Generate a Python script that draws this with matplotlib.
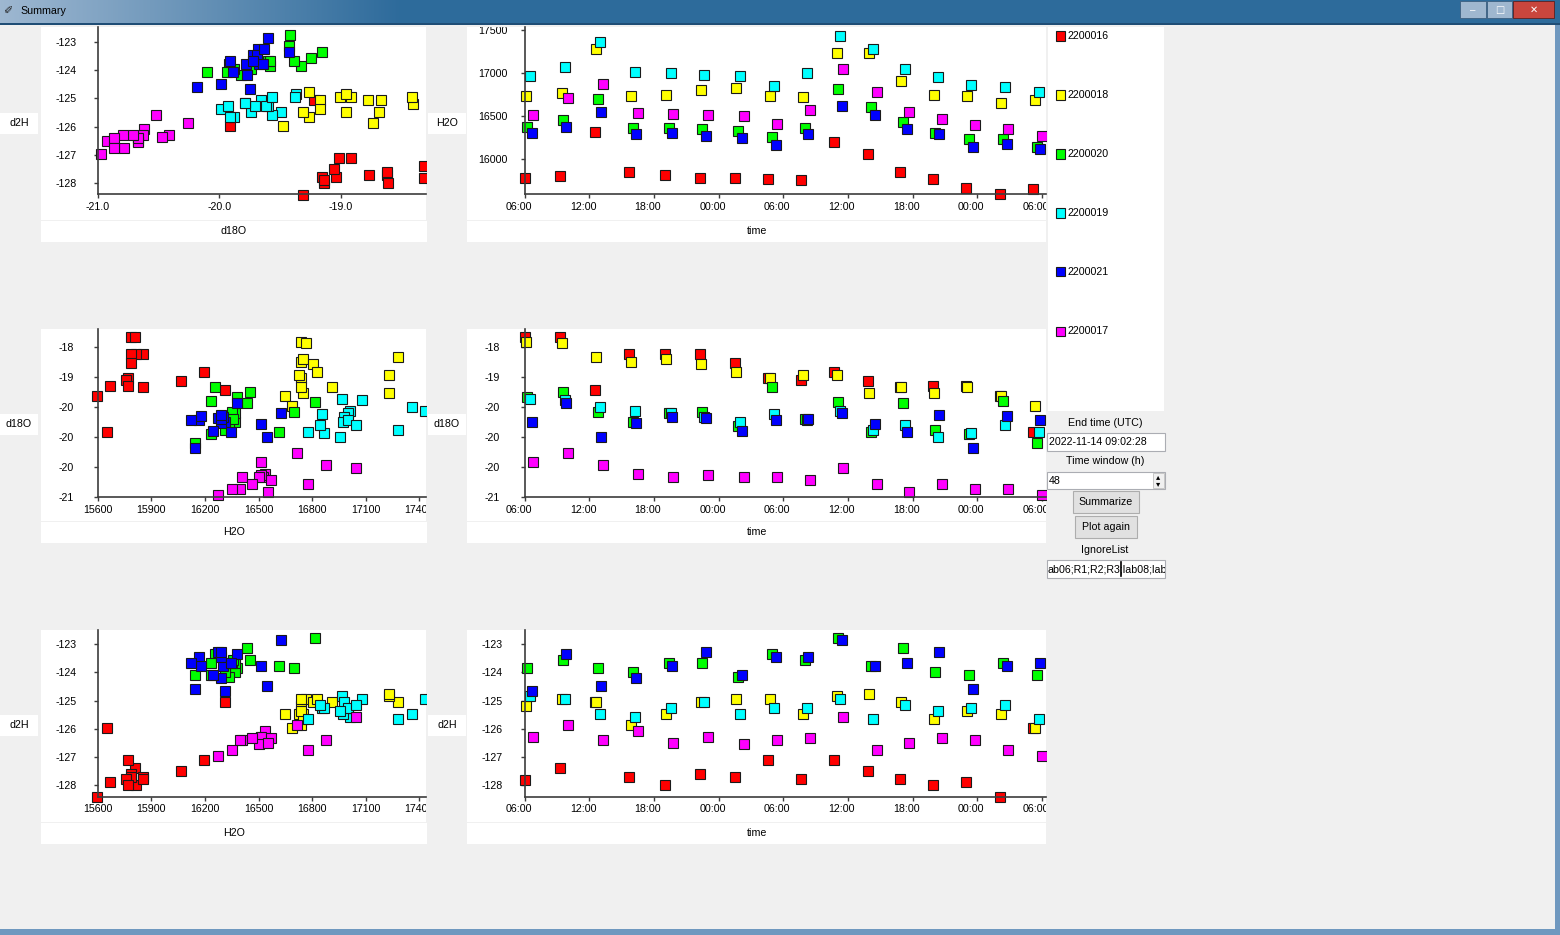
import numpy as np
import matplotlib
matplotlib.use('Agg')
import matplotlib.pyplot as plt
from matplotlib.patches import Rectangle
from matplotlib.transforms import ScaledTranslation

plt.rcParams['font.family'] = ['Liberation Sans', 'DejaVu Sans']

# time in hours after 2022-11-12 06:00 UTC, one list per analyser
t_16 = [0.04, 3.29, 6.54, 9.72, 13.03, 16.28, 19.52, 22.61, 25.65, 28.74, 31.83, 34.83, 37.92, 40.95, 44.11, 47.20]
h2o_16 = [15786, 15809, 16313, 15856, 15817, 15786, 15786, 15767, 15759, 16197, 16065, 15856, 15767, 15670, 15596, 15654]
d18o_16 = [-18.32, -18.32, -19.22, -18.62, -18.61, -18.62, -18.77, -19.02, -19.04, -18.92, -19.06, -19.16, -19.14, -19.14, -19.31, -19.91]
d2h_16 = [-127.80, -127.39, -125.06, -127.70, -128.00, -127.59, -127.70, -127.09, -127.79, -127.09, -127.49, -127.79, -128.00, -127.88, -128.41, -125.99]

t_18 = [0.11, 3.44, 6.63, 9.84, 13.12, 16.34, 19.62, 22.77, 25.86, 28.95, 31.98, 34.92, 37.98, 41.07, 44.20, 47.35]
h2o_18 = [16736, 16767, 17283, 16736, 16748, 16806, 16825, 16736, 16724, 17232, 17232, 16910, 16748, 16736, 16651, 16690]
d18o_18 = [-18.41, -18.42, -18.67, -18.74, -18.69, -18.78, -18.92, -19.01, -18.96, -18.96, -19.26, -19.17, -19.26, -19.17, -19.31, -19.48]
d2h_18 = [-125.19, -124.96, -125.07, -125.87, -125.49, -125.07, -124.96, -124.96, -125.48, -124.84, -124.77, -125.07, -125.67, -125.38, -125.48, -125.99]

t_20 = [0.26, 3.54, 6.78, 10.03, 13.40, 16.49, 19.77, 22.99, 26.02, 29.05, 32.14, 35.14, 38.08, 41.26, 44.35, 47.51]
h2o_20 = [16379, 16453, 16697, 16368, 16368, 16352, 16333, 16255, 16360, 16814, 16612, 16434, 16310, 16232, 16232, 16147]
d18o_20 = [-19.33, -19.25, -19.58, -19.74, -19.60, -19.58, -19.82, -19.16, -19.69, -19.42, -19.92, -19.43, -19.88, -19.94, -19.39, -20.10]
d2h_20 = [-123.86, -123.57, -123.86, -123.98, -123.69, -123.69, -124.18, -123.37, -123.57, -122.78, -123.78, -123.15, -123.98, -124.08, -123.69, -124.08]

t_19 = [0.51, 3.75, 6.97, 10.22, 13.59, 16.65, 19.99, 23.17, 26.20, 29.26, 32.29, 35.29, 38.35, 41.42, 44.57, 47.75]
h2o_19 = [16969, 17077, 17360, 17011, 17000, 16980, 16972, 16856, 17000, 17434, 17279, 17046, 16957, 16864, 16844, 16779]
d18o_19 = [-19.37, -19.38, -19.49, -19.57, -19.60, -19.66, -19.74, -19.62, -19.71, -19.57, -19.88, -19.79, -19.99, -19.93, -19.79, -19.91]
d2h_19 = [-124.84, -124.96, -125.48, -125.58, -125.28, -125.07, -125.48, -125.28, -125.28, -124.96, -125.67, -125.16, -125.38, -125.28, -125.16, -125.67]

t_21 = [0.66, 3.85, 7.12, 10.37, 13.65, 16.86, 20.14, 23.30, 26.26, 29.42, 32.51, 35.45, 38.48, 41.63, 44.72, 47.82]
h2o_21 = [16310, 16379, 16546, 16290, 16302, 16275, 16244, 16166, 16290, 16624, 16515, 16348, 16290, 16143, 16178, 16120]
d18o_21 = [-19.75, -19.43, -19.99, -19.77, -19.67, -19.68, -19.89, -19.72, -19.69, -19.60, -19.78, -19.91, -19.63, -20.18, -19.64, -19.72]
d2h_21 = [-124.67, -123.37, -124.49, -124.19, -123.77, -123.27, -124.08, -123.47, -123.47, -122.86, -123.77, -123.69, -123.27, -124.60, -123.77, -123.69]

t_17 = [0.82, 4.06, 7.31, 10.56, 13.80, 17.05, 20.33, 23.45, 26.48, 29.57, 32.73, 35.66, 38.69, 41.79, 44.88, 48.03]
h2o_17 = [16515, 16717, 16879, 16534, 16523, 16515, 16503, 16410, 16569, 17046, 16779, 16554, 16465, 16399, 16352, 16275]
d18o_17 = [-20.41, -20.26, -20.47, -20.62, -20.67, -20.63, -20.67, -20.67, -20.71, -20.52, -20.78, -20.92, -20.79, -20.87, -20.87, -20.97]
d2h_17 = [-126.29, -125.87, -126.38, -126.09, -126.49, -126.29, -126.55, -126.40, -126.31, -125.58, -126.76, -126.50, -126.31, -126.40, -126.76, -126.97]

names = ['2200016', '2200018', '2200020', '2200019', '2200021', '2200017']
colors = ['#ff0000', '#ffff00', '#00ff00', '#00ffff', '#0000ff', '#ff00ff']
series = [
    dict(t=t_16, h2o=h2o_16, d18o=d18o_16, d2h=d2h_16),
    dict(t=t_18, h2o=h2o_18, d18o=d18o_18, d2h=d2h_18),
    dict(t=t_20, h2o=h2o_20, d18o=d18o_20, d2h=d2h_20),
    dict(t=t_19, h2o=h2o_19, d18o=d18o_19, d2h=d2h_19),
    dict(t=t_21, h2o=h2o_21, d18o=d18o_21, d2h=d2h_21),
    dict(t=t_17, h2o=h2o_17, d18o=d18o_17, d2h=d2h_17),
]

time_ticks = [0, 6, 12, 18, 24, 30, 36, 42, 48]
time_labels = ['06:00', '12:00', '18:00', '00:00', '06:00', '12:00', '18:00', '00:00', '06:00']
h2o_ticks = [15600, 15900, 16200, 16500, 16800, 17100, 17400]
h2o_yticks = [16000, 16500, 17000, 17500]
d18o_xticks = [-21.0, -20.0, -19.0]
d18o_yticks = [-18.5, -19.0, -19.5, -20.0, -20.5, -21.0]
d2h_ticks = [-123, -124, -125, -126, -127, -128]

W, H = 1560, 935
BG = '#f0f0f0'
FS = 7.7

fig = plt.figure(figsize=(W / 100, H / 100), dpi=100, facecolor=BG)


def rect(x0, y0, x1, y1, **kw):
    p = Rectangle((x0 / W, 1 - y1 / H), (x1 - x0) / W, (y1 - y0) / H,
                  transform=fig.transFigure, **kw)
    fig.add_artist(p)
    return p


def label(x, y, s, **kw):
    kw.setdefault('fontsize', FS)
    kw.setdefault('va', 'center')
    return fig.text(x / W, 1 - y / H, s, **kw)


def lin(px, va, pa, vb, pb):
    return va + (px - pa) * (vb - va) / (pb - pa)


def panel(canvas, xcal, ycal, spine_px):
    x0, y0, x1, y1 = canvas
    ax = fig.add_axes([x0 / W, 1 - y1 / H, (x1 - x0) / W, (y1 - y0) / H])
    ax.set_facecolor('white')
    xl = (lin(x0, *xcal), lin(x1, *xcal))
    yl = (lin(y1, *ycal), lin(y0, *ycal))
    ax.set_xlim(xl)
    ax.set_ylim(yl)
    xs = lin(spine_px[0], *xcal)
    ys = lin(spine_px[1], *ycal)
    for s in ['top', 'right']:
        ax.spines[s].set_visible(False)
    ax.spines['left'].set_position(('data', xs))
    ax.spines['bottom'].set_position(('data', ys))
    ax.spines['left'].set_bounds(ys, yl[1])
    ax.spines['bottom'].set_bounds(xs, xl[1])
    for s in ['left', 'bottom']:
        ax.spines[s].set_color('#3c3c3c')
        ax.spines[s].set_linewidth(1.2)
    return ax


def finish(ax, xt, xlab, yt, ylab, shift_x=0):
    ax.set_xticks(xt)
    ax.set_xticklabels(xlab)
    ax.set_yticks(yt)
    ax.set_yticklabels(ylab)
    ax.tick_params(direction='out', length=3, width=1, color='#3c3c3c',
                   labelsize=FS, labelcolor='black')
    ax.tick_params(axis='x', pad=2.5)
    ax.tick_params(axis='y', pad=20)
    for lbl in ax.get_yticklabels():
        lbl.set_horizontalalignment('center')
        lbl.set_clip_on(True)
        lbl.set_clip_box(ax.bbox)
    for lbl in ax.get_xticklabels():
        if shift_x:
            lbl.set_transform(lbl.get_transform() +
                              ScaledTranslation(shift_x / 100, 0, fig.dpi_scale_trans))
        lbl.set_clip_on(True)
        lbl.set_clip_box(ax.bbox)


def scatter(ax, xkey, ykey):
    for s, c in zip(series, colors):
        ax.plot(s[xkey], s[ykey], 's', ms=7.0, mfc=c, mec='#1a1a1a', mew=0.8, ls='none')


# axis calibrations (value, pixel, value, pixel)
cal_d18o_x = (-21.0, 97.7, -19.0, 341.0)
cal_time = (0.0, 524.5, 48.0, 1041.9)
cal_h2o_x = (15600, 97.7, 17100, 365.7)
cal_d2h_top = (-123.0, 41.7, -128.0, 183.3)
cal_h2o_y = (17000, 73.3, 16000, 159.3)
cal_d18o_y = (-18.5, 347.3, -21.0, 497.0)
cal_d2h_bot = (-123.0, 644.0, -128.0, 785.3)

fmt_int = lambda v: '{:.0f}'.format(v)

# row 1
ax = panel((41, 27, 426, 220), cal_d18o_x, cal_d2h_top, (97.7, 194))
scatter(ax, 'd18o', 'd2h')
finish(ax, d18o_xticks, ['{:.1f}'.format(v) for v in d18o_xticks],
       d2h_ticks, [fmt_int(v) for v in d2h_ticks])

ax = panel((467, 27, 1046, 220), cal_time, cal_h2o_y, (524.5, 194))
scatter(ax, 't', 'h2o')
finish(ax, time_ticks, time_labels, h2o_yticks, [fmt_int(v) for v in h2o_yticks], shift_x=-6)

# row 2
ax = panel((41, 329, 426, 521), cal_h2o_x, cal_d18o_y, (97.7, 497))
scatter(ax, 'h2o', 'd18o')
finish(ax, h2o_ticks, [fmt_int(v) for v in h2o_ticks],
       d18o_yticks, [fmt_int(v) for v in d18o_yticks])

ax = panel((467, 329, 1046, 521), cal_time, cal_d18o_y, (524.5, 497))
scatter(ax, 't', 'd18o')
finish(ax, time_ticks, time_labels, d18o_yticks, [fmt_int(v) for v in d18o_yticks], shift_x=-6)

# row 3
ax = panel((41, 630, 426, 822), cal_h2o_x, cal_d2h_bot, (97.7, 796.7))
scatter(ax, 'h2o', 'd2h')
finish(ax, h2o_ticks, [fmt_int(v) for v in h2o_ticks],
       d2h_ticks, [fmt_int(v) for v in d2h_ticks])

ax = panel((467, 630, 1046, 822), cal_time, cal_d2h_bot, (524.5, 796.7))
scatter(ax, 't', 'd2h')
finish(ax, time_ticks, time_labels, d2h_ticks, [fmt_int(v) for v in d2h_ticks], shift_x=-6)

# axis label boxes
rows = [(123, 231, 'd2H', 'd18O', 'H2O'),
        (424, 532, 'd18O', 'H2O', 'd18O'),
        (725, 833, 'd2H', 'H2O', 'd2H')]
for yl_y, xl_y, left_name, left_x, right_name in rows:
    rect(0, yl_y - 10, 38, yl_y + 11, fc='white', ec='none')
    label(19, yl_y, left_name, ha='center')
    rect(428, yl_y - 10, 466, yl_y + 11, fc='white', ec='none')
    label(447, yl_y, right_name, ha='center')
    rect(41, xl_y - 10, 427, xl_y + 11, fc='white', ec='none')
    label(234, xl_y, left_x, ha='center')
    rect(467, xl_y - 10, 1046, xl_y + 11, fc='white', ec='none')
    label(757, xl_y, 'time', ha='center')

# legend panel
rect(1048, 27, 1164, 411, fc='white', ec='none')
for i, (n, c) in enumerate(zip(names, colors)):
    y = 36 + 59 * i
    rect(1056, y - 4.5, 1065, y + 4.5, fc=c, ec='#1a1a1a', lw=0.8)
    label(1068, y, n, ha='left')

# controls
label(1105, 423, 'End time (UTC)', ha='center')
rect(1047, 433, 1165, 451, fc='white', ec='#abadb3', lw=0.8)
label(1049, 442, '2022-11-14 09:02:28', ha='left')
label(1105, 461, 'Time window (h)', ha='center')
rect(1047, 472, 1165, 489, fc='white', ec='#abadb3', lw=0.8)
label(1049, 481, '48', ha='left')
rect(1153, 473, 1164, 488, fc='#f0f0f0', ec='#c0c0c0', lw=0.6)
label(1158.5, 477, '\u25b4', ha='center', fontsize=6, family='DejaVu Sans')
label(1158.5, 484, '\u25be', ha='center', fontsize=6, family='DejaVu Sans')
for x0, y0, x1, y1, txt in [(1073, 491, 1139, 513, 'Summarize'),
                            (1075, 516, 1137, 538, 'Plot again')]:
    rect(x0, y0, x1, y1, fc='#e1e1e1', ec='#adadad', lw=0.8)
    label((x0 + x1) / 2, (y0 + y1) / 2, txt, ha='center')
label(1105, 550, 'IgnoreList', ha='center')
box = rect(1047, 560, 1165, 578, fc='white', ec='#abadb3', lw=0.8)
t = label(1048, 569, 'ab06;R1;R2;R3;lab08;lab08', ha='left')
t.set_clip_path(box)
fig.add_artist(plt.Line2D([1121 / W, 1121 / W], [1 - 562 / H, 1 - 576 / H],
                          transform=fig.transFigure, color='black', lw=1.2))

# window chrome
grad = np.linspace(0, 1, 400)
c0 = np.array([0.62, 0.72, 0.82])
c1 = np.array([0.18, 0.42, 0.61])
img = c0[None, :] * (1 - grad[:, None]) + c1[None, :] * grad[:, None]
img = np.vstack([img, np.repeat(c1[None, :], 1160, axis=0)])[None, :, :]
tax = fig.add_axes([0, 1 - 25 / H, 1, 25 / H])
tax.imshow(img, aspect='auto', extent=(0, W, 0, 1))
tax.set_axis_off()
rect(0, 23, W, 25, fc='#1f4d75', ec='none')
label(20, 11, 'Summary', ha='left', fontsize=7.7)
label(8, 11, '\u2710', ha='center', fontsize=8, family='DejaVu Sans', color='#222222')
rect(1460, 1, 1486, 18, fc='#9fb7cf', ec='#3d5f80', lw=0.6)
rect(1487, 1, 1512, 18, fc='#9fb7cf', ec='#3d5f80', lw=0.6)
rect(1513, 1, 1554, 18, fc='#c9463d', ec='#5a2020', lw=0.6)
label(1473, 10, '\u2013', ha='center', fontsize=7, color='white')
label(1499.5, 10, '\u25a1', ha='center', fontsize=7, family='DejaVu Sans', color='white')
label(1533.5, 10, '\u2715', ha='center', fontsize=7, family='DejaVu Sans', color='white')
rect(0, 929, W, H, fc='#6f98bf', ec='none')
rect(1555, 25, W, H, fc='#6f98bf', ec='none')

fig.savefig('out.png', dpi=100, facecolor=BG)
